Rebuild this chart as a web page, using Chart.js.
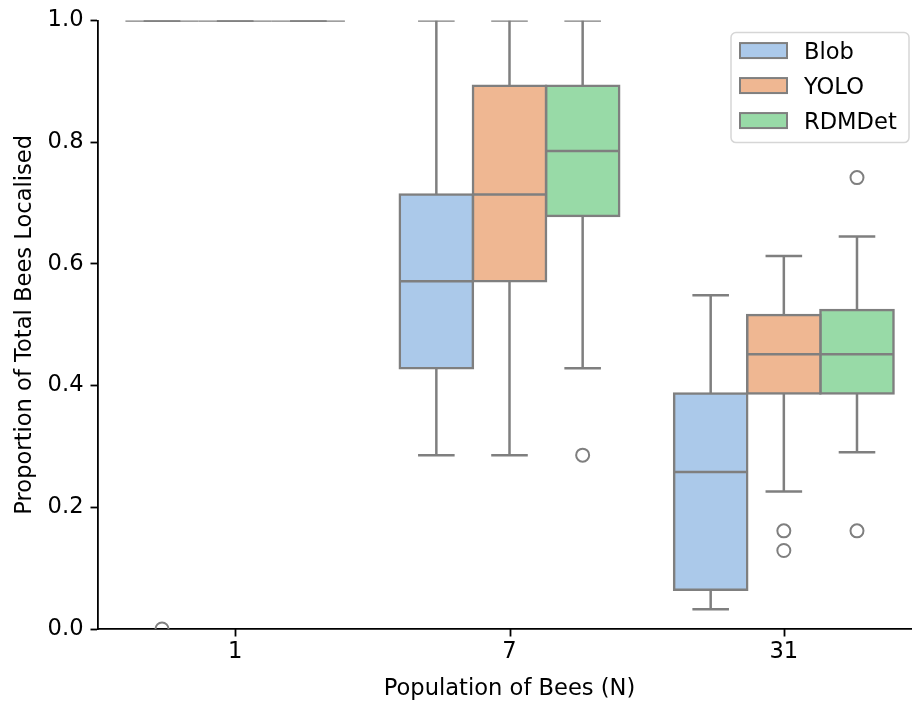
<!DOCTYPE html>
<html><head><meta charset="utf-8">
<script src="https://cdn.jsdelivr.net/npm/chart.js@4.4.1/dist/chart.umd.min.js"></script>
<style>
html,body{margin:0;padding:0;background:#fff;overflow:hidden}
#wrap{width:912px;height:702px;overflow:hidden;position:relative;background:#fff}
canvas{display:block}
</style></head>
<body><div id="wrap"><canvas id="c" width="921" height="702" style="width:921px;height:702px"></canvas></div>
<script>
// ---------- data ----------
const categories = ['1', '7', '31'];
const seriesNames = ['Blob', 'YOLO', 'RDMDet'];
const yTickValues = [0, 0.2, 0.4, 0.6, 0.8, 1.0];
const yTickLabels = ['0.0', '0.2', '0.4', '0.6', '0.8', '1.0'];

const blobLow  = [1.0, 0.2857, 0.0323];
const blobQ1   = [1.0, 0.4286, 0.0645];
const blobMed  = [1.0, 0.5714, 0.2581];
const blobQ3   = [1.0, 0.7143, 0.3871];
const blobHigh = [1.0, 1.0, 0.5484];
const blobOut  = [[0.0], [], []];

const yoloLow  = [1.0, 0.2857, 0.2258];
const yoloQ1   = [1.0, 0.5714, 0.3871];
const yoloMed  = [1.0, 0.7143, 0.4516];
const yoloQ3   = [1.0, 0.8929, 0.5161];
const yoloHigh = [1.0, 1.0, 0.6129];
const yoloOut  = [[], [], [0.1613, 0.1290]];

const rdmLow   = [1.0, 0.4286, 0.2903];
const rdmQ1    = [1.0, 0.6786, 0.3871];
const rdmMed   = [1.0, 0.7857, 0.4516];
const rdmQ3    = [1.0, 0.8929, 0.5242];
const rdmHigh  = [1.0, 1.0, 0.6452];
const rdmOut   = [[], [0.2857], [0.1613, 0.7419]];

// ---------- styles ----------
const FILLS = ['#abc9ea', '#efb792', '#98daa7'];
const LINE = '#7f7f7f';
const LW = 2.5;
const FONT = 'DejaVu Sans';
const FS = 22.6;
const TICK_LEN = 7.5;

const stats = [
  {lo: blobLow, q1: blobQ1, med: blobMed, q3: blobQ3, hi: blobHigh, out: blobOut},
  {lo: yoloLow, q1: yoloQ1, med: yoloMed, q3: yoloQ3, hi: yoloHigh, out: yoloOut},
  {lo: rdmLow,  q1: rdmQ1,  med: rdmMed,  q3: rdmQ3,  hi: rdmHigh,  out: rdmOut}
];

const datasets = seriesNames.map((name, d) => ({
  label: name,
  data: stats[d].q1.map((q, i) => [q, stats[d].q3[i]]),
  backgroundColor: FILLS[d],
  borderColor: LINE,
  borderWidth: LW,
  borderSkipped: false,
  inflateAmount: LW / 2,
  categoryPercentage: 0.8,
  barPercentage: 1.0
}));

const boxPlugin = {
  id: 'boxExtras',
  afterDatasetsDraw(chart) {
    const ctx = chart.ctx, ys = chart.scales.y, a = chart.chartArea;
    const py = v => ys.getPixelForValue(v);
    ctx.save();
    ctx.beginPath();
    ctx.rect(a.left, a.top, a.right - a.left, a.bottom - a.top);
    ctx.clip();
    ctx.strokeStyle = LINE;
    ctx.lineWidth = LW;
    ctx.lineCap = 'butt';
    const seg = (x1, y1, x2, y2) => { ctx.beginPath(); ctx.moveTo(x1, y1); ctx.lineTo(x2, y2); ctx.stroke(); };
    chart.data.datasets.forEach((ds, d) => {
      const meta = chart.getDatasetMeta(d);
      const st = stats[d];
      meta.data.forEach((bar, i) => {
        const cx = bar.x, w = bar.width;
        seg(cx, py(st.q3[i]), cx, py(st.hi[i]));
        seg(cx, py(st.q1[i]), cx, py(st.lo[i]));
        seg(cx - w / 4, py(st.hi[i]), cx + w / 4, py(st.hi[i]));
        seg(cx - w / 4, py(st.lo[i]), cx + w / 4, py(st.lo[i]));
        seg(cx - w / 2, py(st.med[i]), cx + w / 2, py(st.med[i]));
        st.out[i].forEach(v => {
          ctx.beginPath();
          ctx.arc(cx, py(v), 6.5, 0, Math.PI * 2);
          ctx.lineWidth = 2;
          ctx.stroke();
          ctx.lineWidth = LW;
        });
      });
    });
    ctx.restore();
  },
  afterDraw(chart) {
    const ctx = chart.ctx, a = chart.chartArea, xs = chart.scales.x;
    ctx.save();
    // x tick marks at category centres
    ctx.strokeStyle = '#000';
    ctx.lineWidth = 1.8;
    xs.ticks.forEach((t, i) => {
      const x = Math.round(xs.getPixelForTick(i)) + 0.5;
      ctx.beginPath();
      ctx.moveTo(x, a.bottom);
      ctx.lineTo(x, a.bottom + TICK_LEN);
      ctx.stroke();
    });
    // legend (upper right, inside axes)
    const fr = a.right - 12, ft = a.top + 12;
    const fw = 178, fh = 110;
    const fl = fr - fw;
    ctx.beginPath();
    ctx.roundRect(fl, ft, fw, fh, 5);
    ctx.fillStyle = 'rgba(255,255,255,0.8)';
    ctx.fill();
    ctx.strokeStyle = '#d6d6d6';
    ctx.lineWidth = 1.5;
    ctx.stroke();
    ctx.font = FS + 'px "' + FONT + '"';
    ctx.textBaseline = 'alphabetic';
    ctx.textAlign = 'left';
    chart.data.datasets.forEach((ds, d) => {
      const cy = ft + 18 + d * 35;
      ctx.fillStyle = ds.backgroundColor;
      ctx.fillRect(fl + 9, cy - 7.5, 47, 15);
      ctx.strokeStyle = LINE;
      ctx.lineWidth = 2;
      ctx.strokeRect(fl + 9, cy - 7.5, 47, 15);
      ctx.fillStyle = '#000';
      ctx.fillText(ds.label, fl + 73, cy + 8.2);
    });
    ctx.restore();
  }
};

Chart.defaults.font.family = FONT;
Chart.defaults.font.size = FS;
Chart.defaults.color = '#000';

new Chart(document.getElementById('c'), {
  type: 'bar',
  data: { labels: categories, datasets },
  plugins: [boxPlugin],
  options: {
    responsive: false,
    animation: false,
    devicePixelRatio: 1,
    layout: { padding: { top: 19, left: 2, right: 0, bottom: 0 } },
    plugins: { legend: { display: false }, tooltip: { enabled: false } },
    scales: {
      x: {
        offset: true,
        grid: { display: false, drawOnChartArea: false, drawTicks: true, tickLength: TICK_LEN },
        border: { display: true, color: '#000', width: 1.8 },
        ticks: { color: '#000', padding: 2, maxRotation: 0, autoSkip: false, font: { size: FS } },
        title: { display: true, text: 'Population of Bees (N)', color: '#000', font: { size: FS }, padding: { top: 0, bottom: -1 } },
        afterFit(s) { s.height = 73; }
      },
      y: {
        min: 0, max: 1,
        afterBuildTicks(s) { s.ticks = yTickValues.map(v => ({ value: v })); },
        grid: { display: true, drawOnChartArea: false, drawTicks: true, tickLength: TICK_LEN, tickWidth: 1.8, tickColor: '#000' },
        border: { display: true, color: '#000', width: 1.8 },
        ticks: { color: '#000', padding: 7, font: { size: FS }, callback: (v, i) => yTickLabels[i] },
        title: { display: true, text: 'Proportion of Total Bees Localised', color: '#000', font: { size: FS }, padding: { top: 10, bottom: 0 } },
        afterFit(s) { s.width = 96; }
      }
    }
  }
});
</script></body></html>
